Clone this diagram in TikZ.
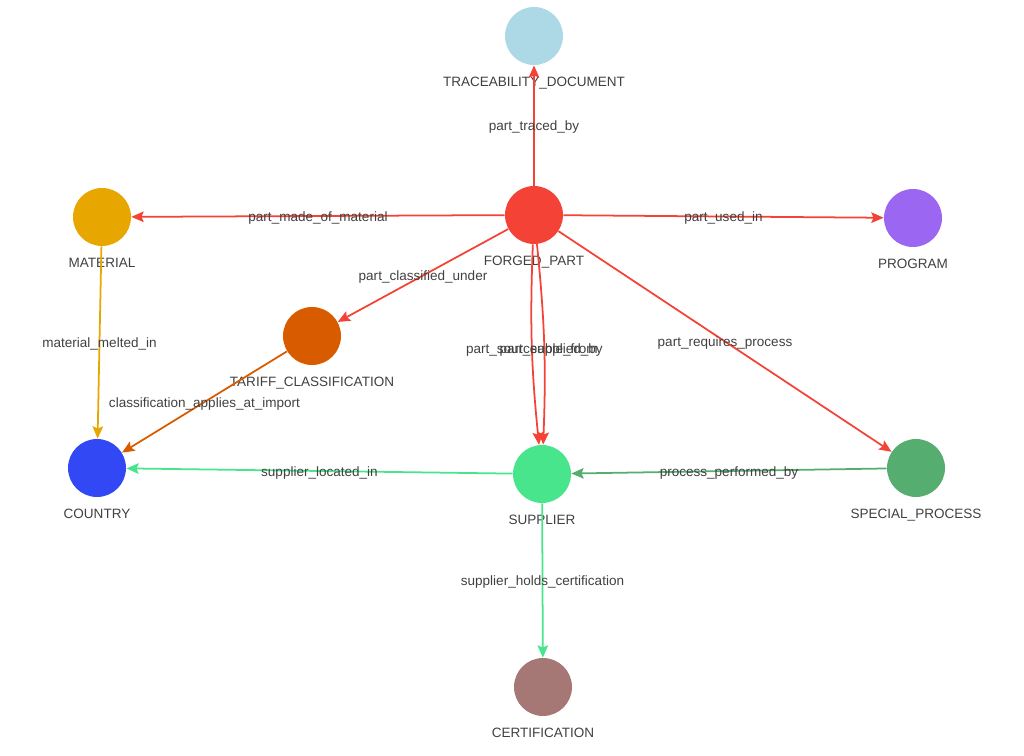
\documentclass[tikz,border=0pt]{standalone}
\usepackage{fontspec}
\setmainfont{Liberation Sans}
\usepackage{xcolor}
\usetikzlibrary{arrows.meta}

\definecolor{cForged}{HTML}{F44336}
\definecolor{cTrace}{HTML}{ADD8E6}
\definecolor{cMaterial}{HTML}{E8A600}
\definecolor{cProgram}{HTML}{9B66F2}
\definecolor{cTariff}{HTML}{D95B00}
\definecolor{cCountry}{HTML}{3348F5}
\definecolor{cSupplier}{HTML}{48E58D}
\definecolor{cSpecial}{HTML}{55AD6F}
\definecolor{cCert}{HTML}{A57875}
\definecolor{txt}{HTML}{404040}

\begin{document}
\begin{tikzpicture}[x=0.02cm,y=-0.02cm]
  \tikzset{ n/.style={circle,inner sep=0pt,minimum size=1.16cm},
            lbl/.style={font=\fontsize{7.7}{9}\selectfont,text=txt},
            nlbl/.style={lbl,yshift=-3.3pt},
            elbl/.style={lbl,yshift=-1pt},
            e/.style={line width=1pt,-{Stealth[length=7pt,width=6pt,inset=1.2pt]}},
  }
  \useasboundingbox (0,0) rectangle (1024,756);
  \node[n,fill=cTrace,label={[nlbl]below:TRACEABILITY\_DOCUMENT}] (trace) at (534,36) {};
  \node[n,fill=cForged,label={[nlbl]below:FORGED\_PART}] (forged) at (534,215) {};
  \node[n,fill=cMaterial,label={[nlbl]below:MATERIAL}] (material) at (102,217) {};
  \node[n,fill=cProgram,label={[nlbl]below:PROGRAM}] (program) at (913,218) {};
  \node[n,fill=cTariff,label={[nlbl]below:TARIFF\_CLASSIFICATION}] (tariff) at (312,336) {};
  \node[n,fill=cCountry,label={[nlbl]below:COUNTRY}] (country) at (97,468) {};
  \node[n,fill=cSupplier,label={[nlbl]below:SUPPLIER}] (supplier) at (542,474) {};
  \node[n,fill=cSpecial,label={[nlbl]below:SPECIAL\_PROCESS}] (special) at (916,468) {};
  \node[n,fill=cCert,label={[nlbl]below:CERTIFICATION}] (cert) at (543,687) {};

  % the connections between the nodes
  \draw[e,cForged] (forged) -- (trace) node [elbl,midway] {part\_traced\_by};
  \draw[e,cForged] (forged) -- (material) node [elbl,midway] {part\_made\_of\_material};
  \draw[e,cForged] (forged) -- (program) node [elbl,midway] {part\_used\_in};
  \draw[e,cForged] (forged) -- (tariff) node [elbl,midway] {part\_classified\_under};
  \draw[e,cForged] (forged) -- (special) node [elbl,midway] {part\_requires\_process};
  \draw[e,cForged,bend right=4] (forged) to node [lbl,yshift=-3pt] {part\_sourceable\_from} (supplier);
  \draw[e,cForged,bend left=4] (forged) to node [lbl,xshift=4pt,yshift=-3pt] {part\_supplied\_by} (supplier);
  \draw[e,cMaterial] (material) -- (country) node [elbl,midway] {material\_melted\_in};
  \draw[e,cTariff] (tariff) -- (country) node [elbl,midway] {classification\_applies\_at\_import};
  \draw[e,cSupplier] (supplier) -- (country) node [elbl,midway] {supplier\_located\_in};
  \draw[e,cSpecial] (special) -- (supplier) node [elbl,midway] {process\_performed\_by};
  \draw[e,cSupplier] (supplier) -- (cert) node [elbl,midway] {supplier\_holds\_certification};
\end{tikzpicture}
\end{document}
